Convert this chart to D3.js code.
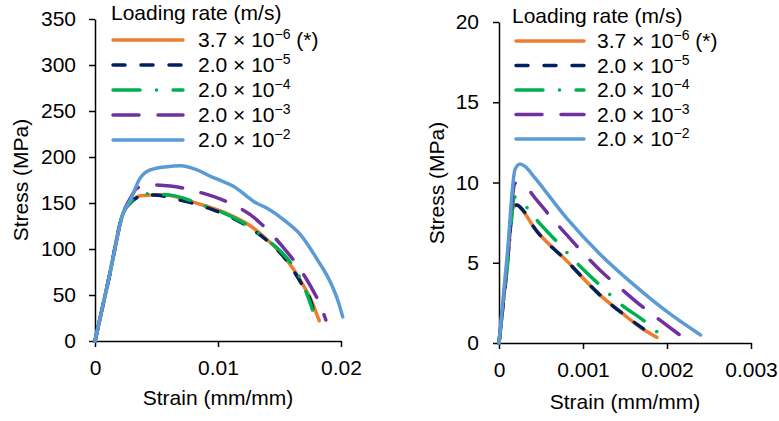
<!DOCTYPE html>
<html>
<head>
<meta charset="utf-8">
<script src="https://cdn.jsdelivr.net/npm/d3@7"></script>
<style>
  body { margin: 0; background: #fff; }
  svg { display: block; font-family: "Liberation Sans", Arial, sans-serif; }
</style>
</head>
<body>
<div id="chart"></div>
<script>
// -----------------------------
// DATA (strain mm/mm, stress MPa)
// -----------------------------
const rateBase = ["3.7 \u00d7 10", "2.0 \u00d7 10", "2.0 \u00d7 10", "2.0 \u00d7 10", "2.0 \u00d7 10"];
const rateExp = ["\u22126", "\u22125", "\u22124", "\u22123", "\u22122"];
const rateSuffix = [" (*)", "", "", "", ""];

// left panel
const leftOrange = [[0, 0], [0.00115, 69.5], [0.00229, 139], [0.00286, 150], [0.00367, 158], [0.00558, 159],
  [0.0083, 149.6], [0.0110, 137], [0.01265, 125], [0.0140, 110], [0.01537, 91.7], [0.01619, 77],
  [0.0170, 59], [0.01769, 41], [0.0181, 26.4], [0.01823, 22]];
const leftNavy = [[0, 0], [0.00115, 69.5], [0.00229, 139], [0.00286, 150], [0.0038, 157.5], [0.00476, 158.7],
  [0.0070, 153], [0.00993, 141], [0.01129, 133], [0.01265, 122.5], [0.0140, 109], [0.01537, 91],
  [0.01592, 80.8], [0.0168, 62], [0.01755, 43], [0.01796, 22]];
const leftGreen = [[0, 0], [0.00115, 69.5], [0.00229, 139], [0.0029, 151], [0.0036, 158], [0.00422, 160],
  [0.0064, 158], [0.0085, 149], [0.01129, 134], [0.01265, 123.5], [0.0140, 110], [0.0155, 91.7],
  [0.0165, 73], [0.0172, 52], [0.01769, 33.7]];
const leftPurple = [[0, 0], [0.00115, 69.5], [0.00229, 139], [0.00300, 158], [0.0034, 166], [0.00449, 169.8],
  [0.00612, 168.5], [0.0083, 162.4], [0.0110, 149.6], [0.01265, 137], [0.0140, 121], [0.01537, 100.7],
  [0.01673, 77], [0.01755, 59], [0.01837, 37.3], [0.01877, 22.8]];
const leftBlue = [[0, 0], [0.00115, 69.5], [0.00229, 139], [0.00286, 153], [0.00367, 177], [0.00449, 186],
  [0.00585, 189.5], [0.00694, 190.5], [0.0083, 186], [0.00939, 179], [0.0102, 174.5], [0.01129, 168],
  [0.01238, 157], [0.01293, 151.4], [0.0140, 144.2], [0.01537, 131.5], [0.01673, 115.2], [0.0181, 88],
  [0.01918, 62.7], [0.01973, 44.6], [0.02014, 26.4]];

// right panel
const rightOrange = [[0, 0], [0.00009, 4.4], [0.00017, 8.45], [0.00021, 8.6], [0.00029, 8.2], [0.00041, 7.25],
  [0.00081, 5.1], [0.0012, 3.0], [0.00148, 1.8], [0.00168, 0.98], [0.00188, 0.35]];
const rightNavy = [[0, 0], [0.00009, 4.4], [0.00017, 8.45], [0.00021, 8.6], [0.00029, 8.25], [0.00041, 7.25],
  [0.00081, 5.1], [0.0012, 3.0], [0.00148, 1.8], [0.00172, 0.88]];
const rightGreen = [[0, 0], [0.0001, 4.8], [0.00019, 9.1], [0.00033, 8.45], [0.00045, 7.66], [0.00069, 6.31],
  [0.00093, 4.97], [0.0012, 3.61], [0.00146, 2.37], [0.00174, 1.33], [0.00188, 0.7]];
const rightPurple = [[0, 0], [0.0001, 5.2], [0.00019, 9.95], [0.00029, 9.84], [0.00045, 8.9], [0.00063, 7.77],
  [0.00079, 6.83], [0.00095, 5.9], [0.0012, 4.55], [0.00145, 3.4], [0.00168, 2.37], [0.00194, 1.33],
  [0.00218, 0.39]];
const rightBlue = [[0, 0], [0.0001, 5.6], [0.00019, 10.8], [0.00025, 11.15], [0.00031, 11.0], [0.00041, 10.4],
  [0.00081, 7.75], [0.0012, 5.55], [0.0016, 3.65], [0.002, 1.95], [0.0024, 0.5]];

// ticks
const leftTicksX = [0, 0.01, 0.02];
const leftTicksY = [0, 50, 100, 150, 200, 250, 300, 350];
const rightTicksX = [0, 0.001, 0.002, 0.003];
const rightTicksY = [0, 5, 10, 15, 20];

// -----------------------------
// STYLES
// -----------------------------
const lineStyles = [
  { color: "#ED7D31", dash: null },
  { color: "#002060", dash: "12,16" },
  { color: "#00B050", dash: "27,16.5,0.01,16.5" },
  { color: "#7030A0", dash: "26,19" },
  { color: "#5B9BD5", dash: null }
];
const fontSize = 21;

const svg = d3.select("#chart").append("svg")
  .attr("width", 779)
  .attr("height", 421);

const fmt = d => String(+d.toFixed(4));

// -----------------------------
// DRAW ONE PANEL
// -----------------------------
function drawPanel(p) {
  const x = d3.scaleLinear().domain([0, p.xMax]).range([p.left, p.right]);
  const y = d3.scaleLinear().domain([0, p.yMax]).range([p.bottom, p.top]);
  const g = svg.append("g");

  const xAxis = g.append("g")
    .attr("transform", `translate(0,${p.bottom})`)
    .call(d3.axisBottom(x).tickValues(p.xTicks).tickFormat(fmt)
      .tickSize(6).tickSizeOuter(0).tickPadding(p.xPad));

  const yAxis = g.append("g")
    .attr("transform", `translate(${p.left},0)`)
    .call(d3.axisLeft(y).tickValues(p.yTicks).tickFormat(fmt)
      .tickSize(6).tickSizeOuter(0).tickPadding(p.yPad));

  [xAxis, yAxis].forEach(a => {
    a.attr("font-size", fontSize).attr("font-family", null);
    a.selectAll("path, line").attr("stroke", "#000").attr("stroke-width", 1.5);
    a.selectAll("text").attr("fill", "#000");
  });

  // axis titles
  g.append("text")
    .attr("x", p.xTitle[0]).attr("y", p.xTitle[1])
    .attr("text-anchor", "middle").attr("font-size", fontSize)
    .text("Strain (mm/mm)");
  g.append("text")
    .attr("transform", `translate(${p.yTitle[0]},${p.yTitle[1]}) rotate(-90)`)
    .attr("text-anchor", "middle").attr("font-size", fontSize)
    .text("Stress (MPa)");

  // curves
  const line = d3.line()
    .x(d => x(d[0]))
    .y(d => y(d[1]))
    .curve(d3.curveMonotoneX);

  p.series.forEach((s, i) => {
    g.append("path")
      .attr("d", line(s))
      .attr("fill", "none")
      .attr("stroke", lineStyles[i].color)
      .attr("stroke-width", 3.5)
      .attr("stroke-linecap", "round")
      .attr("stroke-linejoin", "round")
      .attr("stroke-dasharray", lineStyles[i].dash);
  });

  // legend
  const lg = g.append("g");
  lg.append("text")
    .attr("x", p.legend.titleX).attr("y", p.legend.titleY)
    .attr("font-size", fontSize)
    .text("Loading rate (m/s)");

  rateBase.forEach((b, i) => {
    const ry = p.legend.y0 + i * p.legend.step;
    lg.append("line")
      .attr("x1", p.legend.x1).attr("x2", p.legend.x2)
      .attr("y1", ry).attr("y2", ry)
      .attr("stroke", lineStyles[i].color)
      .attr("stroke-width", 3.5)
      .attr("stroke-linecap", "round")
      .attr("stroke-dasharray", lineStyles[i].dash);

    const t = lg.append("text")
      .attr("x", p.legend.labelX).attr("y", ry + 7)
      .attr("font-size", fontSize);
    t.append("tspan").text(b);
    t.append("tspan").attr("font-size", 14).attr("dy", -8).text(rateExp[i]);
    if (rateSuffix[i]) t.append("tspan").attr("dy", 8).text(rateSuffix[i]);
  });
}

drawPanel({
  xMax: 0.02, yMax: 350, left: 95, right: 341, top: 19, bottom: 341,
  xTicks: leftTicksX, yTicks: leftTicksY, xPad: 13, yPad: 13,
  xTitle: [218, 405], yTitle: [28, 180],
  series: [leftOrange, leftNavy, leftGreen, leftPurple, leftBlue],
  legend: { titleX: 111, titleY: 20, x1: 113, x2: 183, y0: 40, step: 25, labelX: 198 }
});

drawPanel({
  xMax: 0.003, yMax: 20, left: 499, right: 751, top: 22, bottom: 343,
  xTicks: rightTicksX, yTicks: rightTicksY, xPad: 13.5, yPad: 14,
  xTitle: [625, 409], yTitle: [444, 183],
  series: [rightOrange, rightNavy, rightGreen, rightPurple, rightBlue],
  legend: { titleX: 512, titleY: 23, x1: 516, x2: 584, y0: 41, step: 24.5, labelX: 597 }
});
</script>
</body>
</html>
